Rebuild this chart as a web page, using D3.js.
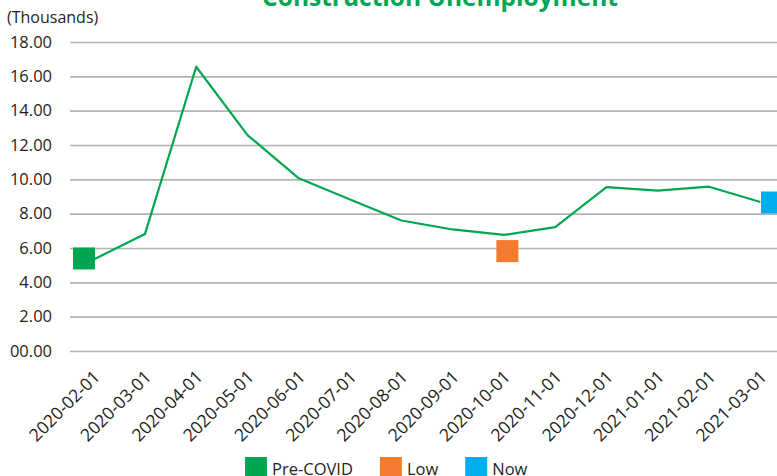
<!DOCTYPE html>
<html>
<head>
<meta charset="utf-8">
<script src="https://cdn.jsdelivr.net/npm/d3@7"></script>
<style>
  body { margin: 0; background: #fff; }
  svg { display: block; font-family: "Open Sans", sans-serif; }
</style>
</head>
<body>
<div id="chart"></div>
<script>
const months = ['2020-02-01', '2020-03-01', '2020-04-01', '2020-05-01', '2020-06-01', '2020-07-01', '2020-08-01',
  '2020-09-01', '2020-10-01', '2020-11-01', '2020-12-01', '2021-01-01', '2021-02-01', '2021-03-01'];
const unemployment = [5.33, 6.81, 16.56, 12.58, 10.06, 8.82, 7.60, 7.08, 6.76, 7.22, 9.55, 9.34, 9.57, 8.68];

// highlighted points (separate series)
const markerNames = ['Pre-COVID', 'Low', 'Now'];
const markerMonths = ['2020-02-01', '2020-10-01', '2021-03-01'];
const markerValues = [5.39, 5.82, 8.65];
const markerColors = ['#00a651', '#f47a30', '#00aeef'];

const yTicks = [0, 2, 4, 6, 8, 10, 12, 14, 16, 18];
const yTickLabels = ['00.00', '2.00', '4.00', '6.00', '8.00', '10.00', '12.00', '14.00', '16.00', '18.00'];

const width = 777;
const height = 476;
const margin = { top: 42, left: 70, bottom: 125 };

const svg = d3.select('#chart').append('svg')
  .attr('width', width)
  .attr('height', height);

const x = d3.scalePoint().domain(months).range([68, 786]).padding(0.5);
const xMark = d3.scalePoint().domain(months).range([84, 772]);
const y = d3.scaleLinear().domain([0, 18]).range([height - margin.bottom, margin.top]);

// title (clipped at the top like the original)
svg.append('text')
  .attr('x', 440)
  .attr('y', 6)
  .attr('text-anchor', 'middle')
  .attr('fill', '#00a651')
  .attr('font-weight', 'bold')
  .attr('font-size', 24.5)
  .text('Construction Unemployment');

svg.append('text')
  .attr('x', 7)
  .attr('y', 23)
  .attr('font-size', 16)
  .attr('fill', '#231f20')
  .text('(Thousands)');

// y axis + gridlines
const yAxis = svg.append('g')
  .attr('transform', `translate(${margin.left},0)`)
  .call(d3.axisLeft(y)
    .tickValues(yTicks)
    .tickSize(-(width - margin.left))
    .tickPadding(18)
    .tickFormat((d, i) => yTickLabels[i]));
yAxis.select('.domain').remove();
yAxis.selectAll('.tick line').attr('stroke', '#b3b3b3').attr('stroke-width', 1.6);
yAxis.selectAll('.tick text')
  .attr('font-size', 16.5)
  .attr('fill', '#231f20')
  .attr('font-family', '"Open Sans", sans-serif');

// x labels
const xAxis = svg.append('g')
  .attr('transform', `translate(0,${height - margin.bottom})`)
  .call(d3.axisBottom(x).tickSize(0).tickPadding(0));
xAxis.select('.domain').remove();
xAxis.selectAll('.tick text')
  .attr('font-size', 17.5)
  .attr('fill', '#231f20')
  .attr('font-family', '"Open Sans", sans-serif')
  .attr('text-anchor', 'end')
  .attr('dy', 0)
  .attr('transform', 'translate(7,27) rotate(-45)');

// line
const line = d3.line()
  .x((d, i) => x(months[i]))
  .y(d => y(d));

svg.append('path')
  .datum(unemployment)
  .attr('fill', 'none')
  .attr('stroke', '#00a651')
  .attr('stroke-width', 2.2)
  .attr('stroke-linejoin', 'round')
  .attr('d', line);

// square markers
const sq = 22;
svg.append('g')
  .selectAll('rect')
  .data(markerNames)
  .join('rect')
  .attr('x', (d, i) => xMark(markerMonths[i]) - sq / 2)
  .attr('y', (d, i) => y(markerValues[i]) - sq / 2)
  .attr('width', sq)
  .attr('height', sq)
  .attr('fill', (d, i) => markerColors[i]);

// legend
const legend = svg.append('g').attr('transform', `translate(245,457)`);
let lx = 0;
markerNames.forEach((name, i) => {
  const item = legend.append('g').attr('transform', `translate(${lx},0)`);
  item.append('rect')
    .attr('width', sq)
    .attr('height', sq)
    .attr('fill', markerColors[i]);
  const t = item.append('text')
    .attr('x', sq + 5)
    .attr('y', 18)
    .attr('font-size', 16.5)
    .attr('fill', '#231f20')
    .text(name);
  lx += sq + 5 + t.node().getComputedTextLength() + 27;
});
</script>
</body>
</html>
